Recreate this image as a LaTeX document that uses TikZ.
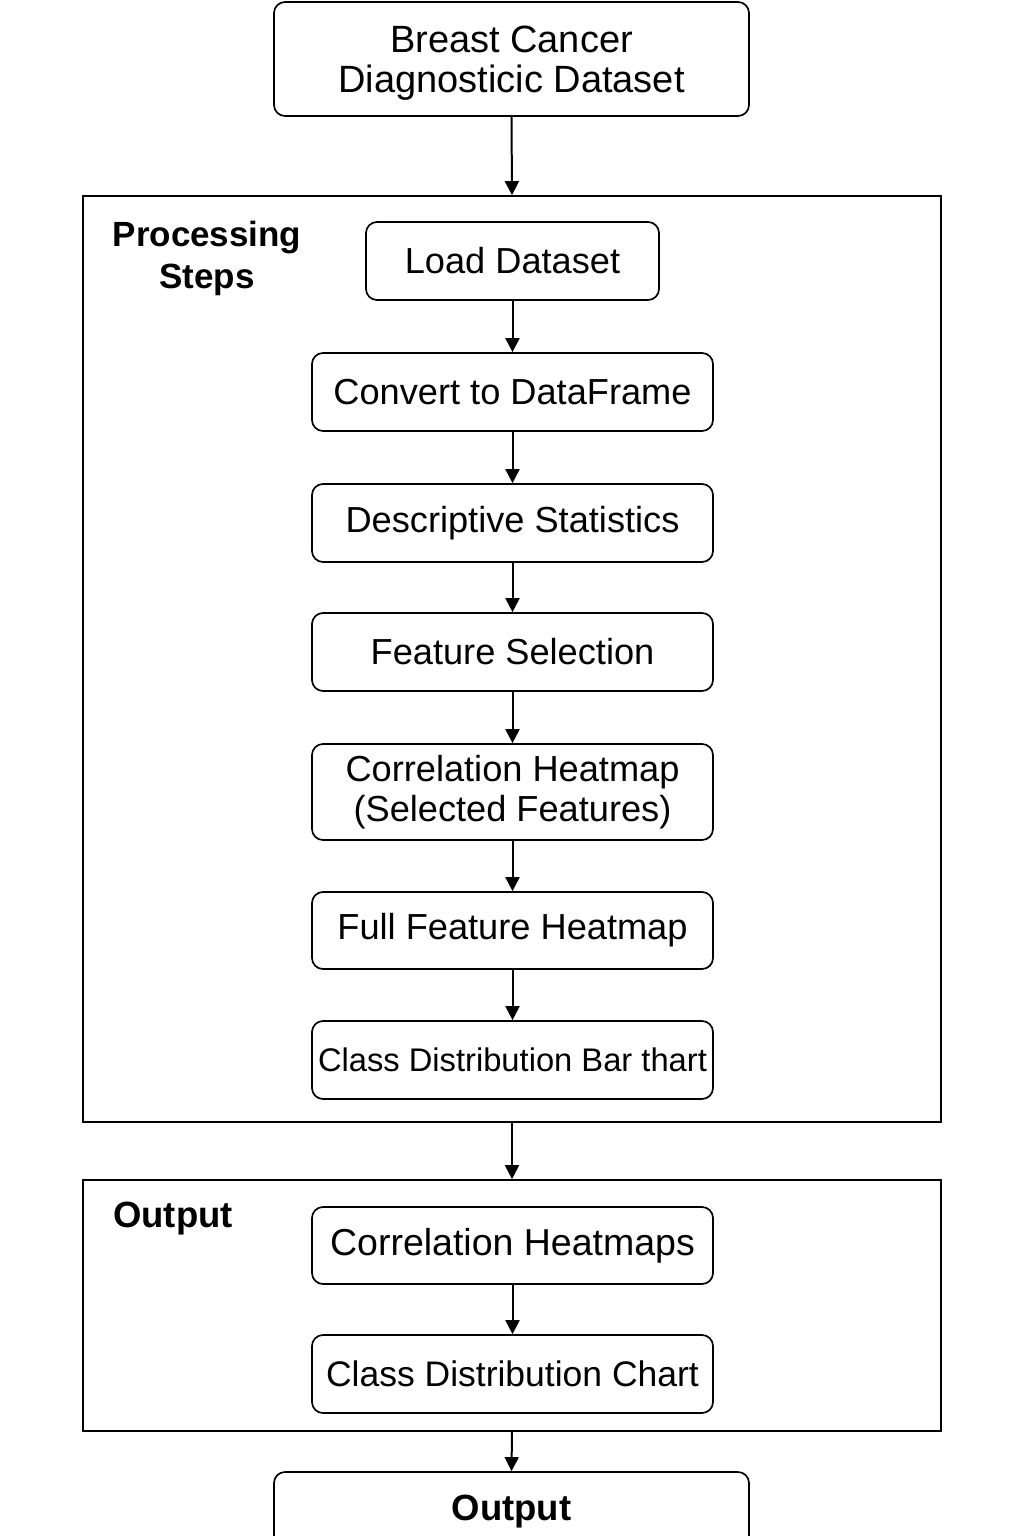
\documentclass[tikz,border=0pt]{standalone}
\usepackage{fontspec}
\setmainfont{Liberation Sans}
\usetikzlibrary{arrows.meta}
\begin{document}
\begin{tikzpicture}[x=1pt,y=-1pt,
  box/.style={draw, line width=1.7pt, rounded corners=11pt, inner sep=0pt, align=center, font=\fontsize{36.2}{40}\selectfont},
  frame/.style={draw, line width=1.7pt, inner sep=0pt},
  title/.style={font=\bfseries\fontsize{35}{42}\selectfont, align=center, inner sep=0pt},
  arr/.style={-{Triangle[length=14pt,width=14pt]}, line width=2pt}]
\clip (0,0) rectangle (1024,1536);
\fill[white] (0,0) rectangle (1024,1536);

\node[box, minimum width=475, minimum height=114, text height=74pt, font=\fontsize{38}{40}\selectfont] (src) at (511.5,59) {Breast Cancer\\Diagnosticic Dataset};

\node[frame, minimum width=858, minimum height=926] (proc) at (512,659) {};
\node[title] (proct) at (207,258) {Processing\\Steps};

\node[box, minimum width=293, minimum height=78] (load) at (512.5,261) {Load Dataset};
\node[box, minimum width=401, minimum height=78] (conv) at (512.5,392) {Convert to DataFrame};
\node[box, minimum width=401, minimum height=78] (desc) at (512.5,523) {Descriptive Statistics};
\node[box, minimum width=401, minimum height=78] (feat) at (512.5,652) {Feature Selection};
\node[box, minimum width=401, minimum height=96] (corr) at (512.5,792) {Correlation Heatmap\\(Selected Features)};
\node[box, minimum width=401, minimum height=77] (full) at (512.5,930.5) {Full Feature Heatmap};
\node[box, minimum width=401, minimum height=78, font=\fontsize{32.7}{38}\selectfont] (cls) at (512.5,1060) {Class Distribution Bar thart};

\node[frame, minimum width=858, minimum height=251] (outf) at (512,1305.5) {};
\node[title, font=\bfseries\fontsize{36.5}{42}\selectfont] (outt) at (173,1219) {Output};
\node[box, minimum width=401, minimum height=77, font=\fontsize{37.5}{40}\selectfont] (heat) at (512.5,1245.5) {Correlation Heatmaps};
\node[box, minimum width=401, minimum height=78, font=\fontsize{35.5}{40}\selectfont] (chart) at (512.5,1374) {Class Distribution Chart};

\node[box, minimum width=475, minimum height=80, font=\bfseries\fontsize{36.5}{40}\selectfont] (final) at (511.5,1512) {Output};

\draw[arr] (src.south) -- (proc.north);
\draw[arr] (load.south) -- (conv.north);
\draw[arr] (conv.south) -- (desc.north);
\draw[arr] (desc.south) -- (feat.north);
\draw[arr] (feat.south) -- (corr.north);
\draw[arr] (corr.south) -- (full.north);
\draw[arr] (full.south) -- (cls.north);
\draw[arr] (proc.south) -- (outf.north);
\draw[arr] (heat.south) -- (chart.north);
\draw[arr] (outf.south) -- (final.north);
\end{tikzpicture}
\end{document}
